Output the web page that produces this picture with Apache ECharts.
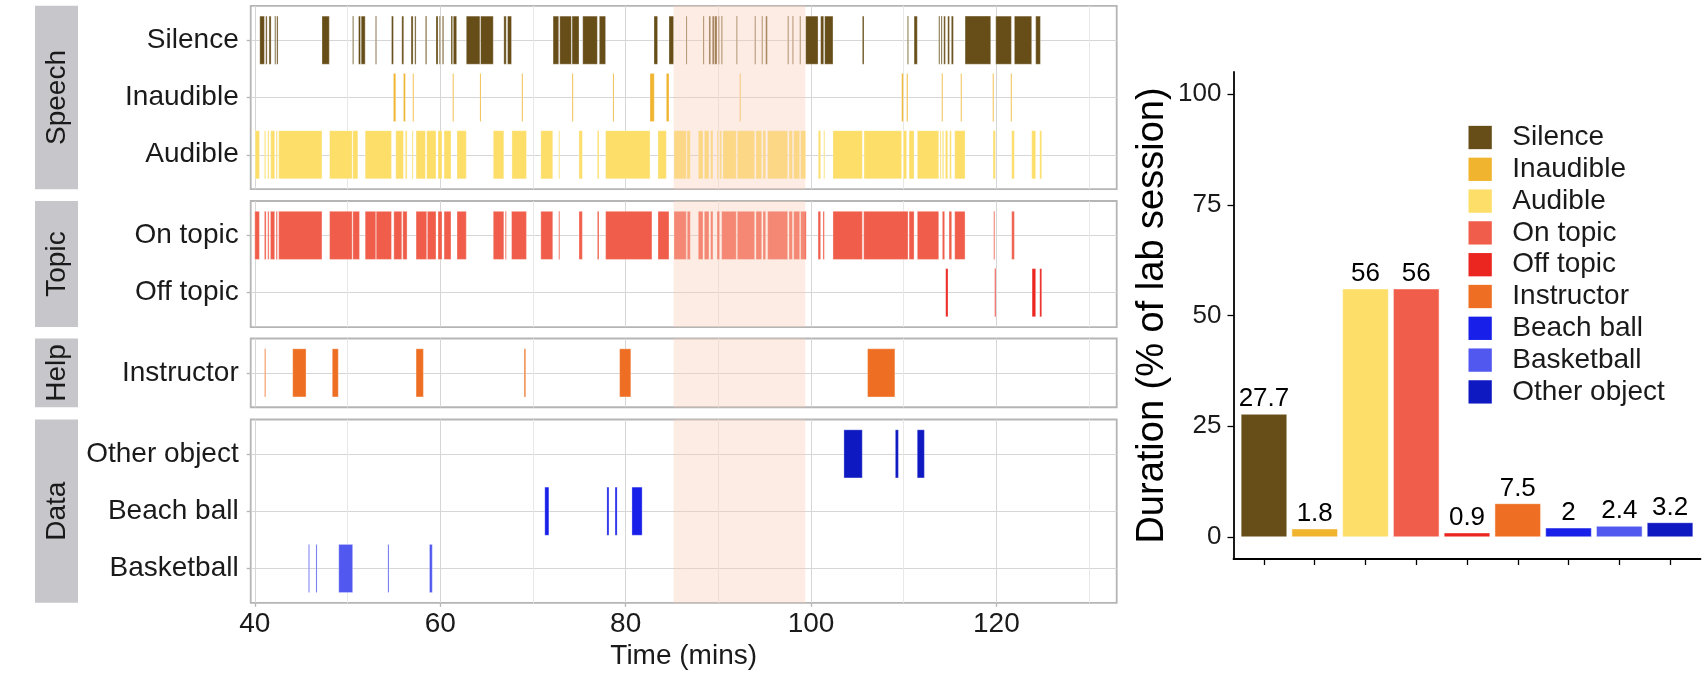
<!DOCTYPE html>
<html>
<head>
<meta charset="utf-8">
<title>Lab session timeline</title>
<script src="https://cdn.jsdelivr.net/npm/echarts@6/dist/echarts.min.js"></script>
<style>
    html, body { margin: 0; padding: 0; background: #fff; }
    #chart { width: 1704px; height: 678px; }
</style>
</head>
<body>
<div id="chart"></div>
<script>
;(function () {

    'use strict';

    // coded intervals, [start, end] in minutes
    var silence = [
        [40.53, 41.03], [41.17, 41.32], [41.53, 41.75], [42.14, 42.25], [42.36, 42.50],
        [47.24, 48.03], [50.54, 50.64], [51.18, 51.40], [51.47, 51.90], [53.01, 53.09],
        [54.74, 54.95], [55.85, 56.06], [56.85, 57.07], [57.25, 57.39], [58.40, 58.54],
        [59.54, 59.76], [59.90, 59.97], [60.23, 60.37], [61.16, 61.34], [61.41, 61.77],
        [62.81, 64.28], [64.35, 65.72], [66.86, 67.12], [67.26, 67.69],
        [72.17, 72.78], [72.89, 74.15], [74.22, 74.97], [75.37, 76.95], [77.16, 77.84],
        [83.06, 83.45], [84.68, 85.18], [86.51, 86.62], [88.35, 88.47], [88.99, 89.17],
        [89.35, 89.55], [89.60, 89.86], [90.00, 90.11], [90.32, 90.45], [91.94, 92.03],
        [93.92, 94.01], [94.68, 94.78], [95.11, 95.29], [97.48, 97.57], [97.99, 98.11],
        [98.78, 98.88], [99.42, 100.76], [101.04, 101.37], [101.47, 102.37],
        [105.54, 105.72], [110.40, 110.52], [111.12, 111.47],
        [113.78, 113.90], [114.03, 114.15], [114.32, 114.50], [114.75, 114.94], [115.14, 115.36],
        [116.62, 119.39], [119.93, 121.62], [121.94, 123.81], [124.24, 124.75]
    ];
    var inaudible = [
        [54.95, 55.20], [56.03, 56.24], [57.03, 57.14], [61.34, 61.42], [64.28, 64.33],
        [68.80, 68.87], [74.22, 74.28], [78.63, 78.68], [82.63, 83.09], [84.39, 84.68],
        [92.30, 92.38], [109.78, 109.96], [110.32, 110.45], [114.10, 114.19],
        [116.15, 116.24], [119.60, 119.66], [121.55, 121.62]
    ];
    var audible = [
        [40.03, 40.50], [41.03, 41.17], [41.39, 41.53], [41.71, 42.14], [42.29, 42.43],
        [42.57, 47.24], [48.06, 50.50], [50.57, 51.11], [51.90, 54.74], [55.20, 56.03],
        [56.24, 56.42], [56.96, 57.07], [57.39, 58.40], [58.54, 59.54], [59.76, 60.19],
        [60.41, 61.16], [61.81, 62.81], [65.72, 66.86], [67.73, 69.30], [70.85, 72.14],
        [72.78, 72.89], [74.97, 75.33], [76.95, 77.13], [77.84, 82.63], [83.49, 84.39],
        [85.22, 86.55], [86.62, 86.98], [87.84, 88.35], [88.49, 88.99], [89.17, 89.42],
        [89.86, 90.00], [90.14, 90.36], [90.50, 91.94], [92.05, 93.92], [94.06, 94.68],
        [94.82, 95.11], [95.32, 97.48], [97.63, 97.99], [98.13, 98.78], [98.88, 99.42],
        [100.79, 101.04], [101.37, 101.44], [102.37, 105.54], [105.72, 109.78],
        [109.96, 110.32], [110.58, 111.12], [111.47, 113.78], [113.92, 114.03],
        [114.17, 114.32], [114.50, 114.75], [114.96, 115.14], [115.50, 116.62],
        [119.64, 119.89], [121.65, 121.94], [123.81, 124.24], [124.68, 124.89]
    ];
    var onTopic = [
        [39.99, 40.49], [41.03, 41.21], [41.39, 41.53], [41.68, 42.14], [42.29, 42.43],
        [42.57, 47.24], [48.06, 50.50], [50.57, 51.29], [51.90, 53.05], [53.09, 54.74],
        [54.99, 55.85], [55.96, 56.42], [57.39, 58.54], [58.61, 59.54], [59.76, 60.19],
        [60.41, 61.16], [61.81, 62.81], [65.72, 66.86], [67.01, 67.12], [67.69, 69.30],
        [70.85, 72.14], [72.78, 72.89], [74.97, 75.33], [76.95, 77.13], [77.84, 82.84],
        [83.49, 84.68], [85.22, 86.55], [86.65, 86.98], [87.84, 88.35], [88.49, 88.99],
        [89.17, 89.42], [89.86, 90.14], [90.36, 91.94], [92.05, 93.92], [94.06, 94.68],
        [94.82, 95.11], [95.32, 97.48], [97.63, 97.99], [98.13, 98.78], [98.88, 99.48],
        [100.76, 101.04], [101.29, 101.44], [102.37, 105.54], [105.68, 110.47],
        [110.58, 111.12], [111.47, 113.78], [114.17, 114.42], [114.89, 115.18],
        [115.50, 116.62], [119.71, 119.82], [121.65, 121.94]
    ];
    var offTopic = [[114.53, 114.78], [119.82, 119.89], [123.85, 124.24], [124.68, 124.89]];
    var instructor = [
        [41.05, 41.12], [44.08, 45.52], [48.35, 49.00], [57.39, 58.18], [69.05, 69.22],
        [79.35, 80.56], [106.10, 109.05]
    ];
    var otherObject = [[103.55, 105.53], [109.10, 109.43], [111.46, 112.23]];
    var beachBall = [[71.28, 71.72], [77.98, 78.20], [78.86, 79.08], [80.68, 81.78]];
    var basketball = [[45.78, 45.89], [46.59, 46.71], [49.05, 50.55], [54.35, 54.47], [58.84, 59.14]];

    var highlight = [85.18, 99.38];

    var categories = ['Silence', 'Inaudible', 'Audible', 'On topic', 'Off topic',
        'Instructor', 'Beach ball', 'Basketball', 'Other object'];
    var durations = [27.7, 1.8, 56, 56, 0.9, 7.5, 2, 2.4, 3.2];
    var colors = ['#674e19', '#f0b42f', '#fcde68', '#f05e4b', '#eb251f',
        '#ee6f23', '#171fe9', '#5158f0', '#0e19c2'];

    var panels = ['Speech', 'Topic', 'Help', 'Data'];
    var panelRows = [
        ['Silence', 'Inaudible', 'Audible'],
        ['On topic', 'Off topic'],
        ['Instructor'],
        ['Other object', 'Beach ball', 'Basketball']
    ];
    var spans = {
        'Silence': silence, 'Inaudible': inaudible, 'Audible': audible,
        'On topic': onTopic, 'Off topic': offTopic, 'Instructor': instructor,
        'Other object': otherObject, 'Beach ball': beachBall, 'Basketball': basketball
    };

    var timeTicks = [40, 60, 80, 100, 120];
    var timeMinorTicks = [50, 70, 90, 110, 130];
    var durationTicks = [0, 25, 50, 75, 100];

    var FONT = "'Liberation Sans', Arial, Helvetica, sans-serif";
    var INK = '#1a1a1a';

    var rowUnit = 57.3;
    var panelTops = [5.8, 201, 338.5, 419.5];
    var panelLeft = 250.7, panelWidth = 866;

    var colorOf = function (name) {
        return colors[categories.indexOf(name)];
    };

    var renderSpan = function (params, api) {
        var r = api.value(2);
        var a = api.coord([api.value(0), r - 0.42]);
        var b = api.coord([api.value(1), r + 0.42]);
        return {
            type: 'rect',
            shape: {
                x: a[0], y: Math.min(a[1], b[1]),
                width: Math.max(b[0] - a[0], 1.1), height: Math.abs(b[1] - a[1])
            },
            style: { fill: api.visual('color'), stroke: 'rgba(255,255,255,0.45)', lineWidth: 0.7 }
        };
    };

    var renderShade = function (params, api) {
        var a = api.coord([api.value(0), 0]);
        var b = api.coord([api.value(1), 0]);
        var cs = params.coordSys;
        return {
            type: 'rect',
            shape: { x: a[0], y: cs.y, width: b[0] - a[0], height: cs.height },
            style: { fill: 'rgba(250,204,183,0.38)' }
        };
    };

    var renderBar = function (params, api) {
        var c = api.value(0), v = api.value(1);
        var p0 = api.coord([c - 0.45, 0]);
        var p1 = api.coord([c + 0.45, v]);
        return {
            type: 'group',
            children: [{
                type: 'rect',
                shape: { x: p0[0], y: p1[1], width: p1[0] - p0[0], height: p0[1] - p1[1] },
                style: { fill: api.visual('color'), stroke: 'rgba(255,255,255,0.5)', lineWidth: 1 }
            }, {
                type: 'text',
                x: (p0[0] + p1[0]) / 2,
                y: p1[1] - 2,
                style: {
                    text: String(v), fill: '#000', font: '26px ' + FONT,
                    align: 'center', verticalAlign: 'bottom'
                }
            }]
        };
    };

    var grids = [], xAxes = [], yAxes = [], series = [], graphics = [];

    panels.forEach(function (panel, g) {
        var rows = panelRows[g];
        var h = (rows.length + 0.2) * rowUnit;
        var last = g === panels.length - 1;
        var rowIdx = rows.map(function (r, i) { return i; });

        grids.push({
            left: panelLeft, top: panelTops[g], width: panelWidth, height: h,
            show: true, borderColor: '#b5b5b5', borderWidth: 1.8, backgroundColor: 'transparent'
        });

        xAxes.push({
            gridIndex: g, type: 'value', min: 39.55, max: 132.98, position: 'bottom',
            name: last ? 'Time (mins)' : '', nameLocation: 'middle', nameGap: 39,
            nameTextStyle: { fontSize: 28, color: INK, fontFamily: FONT },
            axisLine: { show: false, onZero: false },
            axisTick: { show: last, customValues: timeTicks, length: 4, lineStyle: { color: '#b5b5b5', width: 1.3 } },
            axisLabel: { show: last, customValues: timeTicks, margin: 7, fontSize: 28, color: INK, fontFamily: FONT },
            splitLine: { show: true, lineStyle: { color: '#d6d6d6', width: 1 } }
        });
        xAxes.push({
            gridIndex: g, type: 'value', min: 39.55, max: 132.98, position: 'top',
            axisLine: { show: false, onZero: false },
            axisTick: { show: false, customValues: timeMinorTicks },
            axisLabel: { show: false, customValues: timeMinorTicks },
            splitLine: { show: true, lineStyle: { color: '#e8e8e8', width: 1 } }
        });

        yAxes.push({
            gridIndex: g, type: 'value', min: -0.6, max: rows.length - 0.4, inverse: true,
            axisLine: { show: false, onZero: false },
            axisTick: { show: true, customValues: rowIdx, length: 4, lineStyle: { color: '#b5b5b5', width: 1.3 } },
            axisLabel: {
                customValues: rowIdx, margin: 12, fontSize: 28, color: INK, fontFamily: FONT,
                formatter: function (v) { return rows[Math.round(v)]; }
            },
            splitLine: { show: true, lineStyle: { color: '#d6d6d6', width: 1 } }
        });

        rows.forEach(function (row, r) {
            series.push({
                type: 'custom', name: row, xAxisIndex: 2 * g, yAxisIndex: g,
                itemStyle: { color: colorOf(row) },
                encode: { x: [0, 1], y: 2 },
                data: spans[row].map(function (iv) { return [iv[0], iv[1], r]; }),
                renderItem: renderSpan, silent: true, z: 2
            });
        });

        series.push({
            type: 'custom', xAxisIndex: 2 * g, yAxisIndex: g,
            encode: { x: [0, 1], y: 2 },
            data: [[highlight[0], highlight[1], 0]],
            renderItem: renderShade, silent: true, z: 5
        });

        graphics.push({
            type: 'rect', shape: { x: 35, y: panelTops[g], width: 43, height: h },
            style: { fill: '#c6c6cb' }
        });
        graphics.push({
            type: 'text', x: 57, y: panelTops[g] + h / 2, rotation: Math.PI / 2,
            style: {
                text: panel, fill: INK, font: '28px ' + FONT,
                align: 'center', verticalAlign: 'middle',
                textAlign: 'center', textVerticalAlign: 'middle'
            }
        });
    });

    // duration summary
    grids.push({ left: 1233.5, top: 72, width: 467, height: 487, show: false });
    xAxes.push({
        gridIndex: 4, type: 'value', min: 0.4, max: 9.6,
        axisLine: { show: true, onZero: false, lineStyle: { color: '#000', width: 1.8 } },
        axisTick: { show: true, customValues: [1, 2, 3, 4, 5, 6, 7, 8, 9], length: 6, lineStyle: { color: '#000', width: 1.3 } },
        axisLabel: { show: false, customValues: [1, 2, 3, 4, 5, 6, 7, 8, 9] },
        splitLine: { show: false }
    });
    yAxes.push({
        gridIndex: 4, type: 'value', min: -5, max: 105,
        name: 'Duration (% of lab session)', nameLocation: 'middle', nameGap: 62,
        nameTextStyle: { fontSize: 38, color: '#000', fontFamily: FONT },
        axisLine: { show: true, onZero: false, lineStyle: { color: '#000', width: 1.8 } },
        axisTick: { show: true, customValues: durationTicks, length: 6, lineStyle: { color: '#000', width: 1.3 } },
        axisLabel: { customValues: durationTicks, margin: 12, fontSize: 26, color: INK, fontFamily: FONT },
        splitLine: { show: false }
    });

    categories.forEach(function (name, i) {
        series.push({
            type: 'custom', name: name, xAxisIndex: 8, yAxisIndex: 4,
            itemStyle: { color: colors[i] },
            encode: { x: 0, y: 1 },
            data: [[i + 1, durations[i]]],
            renderItem: renderBar, silent: true, z: 3
        });
    });

    var chart = echarts.init(document.getElementById('chart'), null, { renderer: 'canvas' });
    chart.setOption({
        animation: false,
        backgroundColor: '#fff',
        textStyle: { fontFamily: FONT },
        grid: grids,
        xAxis: xAxes,
        yAxis: yAxes,
        legend: {
            data: categories, orient: 'vertical', left: 1468.5, top: 123.5, padding: 0,
            itemWidth: 23.3, itemHeight: 23.3, itemGap: 3.8, icon: 'rect', selectedMode: false,
            textStyle: { fontSize: 28, lineHeight: 28, color: INK, fontFamily: FONT, padding: [0, 0, 0, 15.5] }
        },
        graphic: graphics,
        series: series
    });

}());
</script>
</body>
</html>
